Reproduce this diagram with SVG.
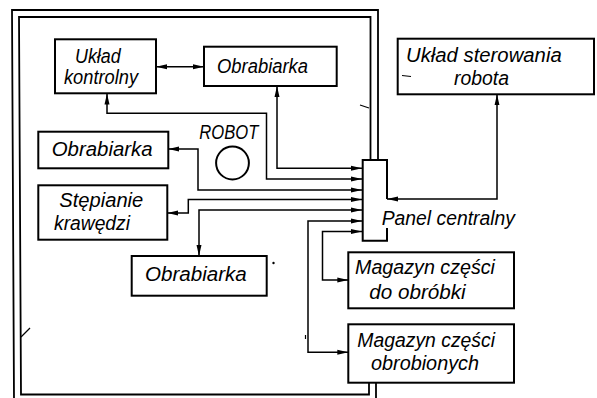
<svg xmlns="http://www.w3.org/2000/svg" width="597" height="398" viewBox="0 0 597 398">
<style>
.box{fill:none;stroke:#000;stroke-width:2}
.frame{fill:none;stroke:#000;stroke-width:1.8}
.con{fill:none;stroke:#000;stroke-width:1.5;marker-start:url(#ah);marker-end:url(#ah)}
.t{font-family:"Liberation Sans","Arial",sans-serif;font-style:italic;font-size:20px;fill:#000}
.mark{fill:none;stroke:#000;stroke-width:1.2}
</style>
<defs>
<marker id="ah" markerUnits="userSpaceOnUse" markerWidth="12" markerHeight="7" refX="11" refY="3.5" orient="auto-start-reverse">
<path d="M0,1 L11,3.5 L0,6 z" fill="#000"/>
</marker>
</defs>
<rect width="597" height="398" fill="#fff"/>
<g id="frame">
<polyline class="frame" points="376,383 376,400 14,400 12,10 378,10 378,160"/>
<polyline class="frame" points="369,383 369,394.5 21,394.5 19,17 370.5,17 370.5,160"/>
</g>
<g id="connectors">
<path class="con" d="M156,66.7 H204"/>
<path class="con" d="M107,93.5 V113.3 H266.5 V179 H362"/>
<path class="con" d="M277,86 V168.3 H362"/>
<path class="con" d="M168.3,149 H198 V190 H362"/>
<path class="con" d="M167.3,213 H188.3 V199.5 H362"/>
<path class="con" d="M199,256 V210 H362"/>
<path class="con" d="M348.3,352.3 H308 V221 H362"/>
<path class="con" d="M348.3,280 H322.5 V231.5 H362"/>
<path class="con" d="M497,94.3 V199 H387"/>
</g>
<g id="uklad-kontrolny">
<rect class="box" x="55" y="39.3" width="101" height="54"/>
<text class="t" x="75" y="62.7" textLength="45.7" lengthAdjust="spacingAndGlyphs">Układ</text>
<text class="t" x="64" y="84" textLength="74" lengthAdjust="spacingAndGlyphs">kontrolny</text>
</g>
<g id="obrabiarka-1">
<rect class="box" x="204" y="46.7" width="132.7" height="39.3"/>
<text class="t" x="217" y="72.5" textLength="91" lengthAdjust="spacingAndGlyphs">Obrabiarka</text>
</g>
<g id="uklad-sterowania">
<rect class="box" x="397.7" y="38.7" width="196.3" height="55.6"/>
<text class="t" x="406" y="61.7" textLength="155.7" lengthAdjust="spacingAndGlyphs">Układ sterowania</text>
<text class="t" x="454" y="85" textLength="55" lengthAdjust="spacingAndGlyphs">robota</text>
</g>
<g id="robot">
<text class="t" x="199.3" y="139.3" textLength="59" lengthAdjust="spacingAndGlyphs">ROBOT</text>
<circle cx="232.5" cy="163" r="16.4" fill="none" stroke="#000" stroke-width="2"/>
</g>
<g id="obrabiarka-2">
<rect class="box" x="38.3" y="131.7" width="130" height="36.6"/>
<text class="t" x="51.7" y="156.3" textLength="101" lengthAdjust="spacingAndGlyphs">Obrabiarka</text>
</g>
<g id="stepianie">
<rect class="box" x="38.3" y="185.3" width="129" height="54.4"/>
<text class="t" x="59.3" y="207" textLength="84" lengthAdjust="spacingAndGlyphs">Stępianie</text>
<text class="t" x="54" y="229.5" textLength="76" lengthAdjust="spacingAndGlyphs">krawędzi</text>
</g>
<g id="obrabiarka-3">
<rect class="box" x="131.7" y="256" width="135" height="39.7"/>
<text class="t" x="145" y="281" textLength="101.7" lengthAdjust="spacingAndGlyphs">Obrabiarka</text>
</g>
<g id="panel">
<path class="box" d="M387,199 V160 H362.7 V240.7 H387 V228"/>
<text class="t" x="381.7" y="225" textLength="133.3" lengthAdjust="spacingAndGlyphs">Panel centralny</text>
</g>
<g id="magazyn-do-obrobki">
<rect class="box" x="348.3" y="252.3" width="165.7" height="56"/>
<text class="t" x="355" y="274" textLength="140" lengthAdjust="spacingAndGlyphs">Magazyn części</text>
<text class="t" x="369.3" y="299" textLength="96.4" lengthAdjust="spacingAndGlyphs">do obróbki</text>
</g>
<g id="magazyn-obrobionych">
<rect class="box" x="348.3" y="324.3" width="165.7" height="58.4"/>
<text class="t" x="357.3" y="346.7" textLength="137.7" lengthAdjust="spacingAndGlyphs">Magazyn części</text>
<text class="t" x="371" y="370" textLength="108" lengthAdjust="spacingAndGlyphs">obrobionych</text>
</g>
<g id="marks">
<path class="mark" d="M360,105 L369,108"/>
<path class="mark" d="M402,75.5 L411,76.5"/>
<path class="mark" d="M21,337 L24,334 L30,328"/>
<circle cx="273.5" cy="263" r="1.2" fill="#000"/>
<path class="mark" d="M305.5,335 V339"/>
</g>
</svg>
